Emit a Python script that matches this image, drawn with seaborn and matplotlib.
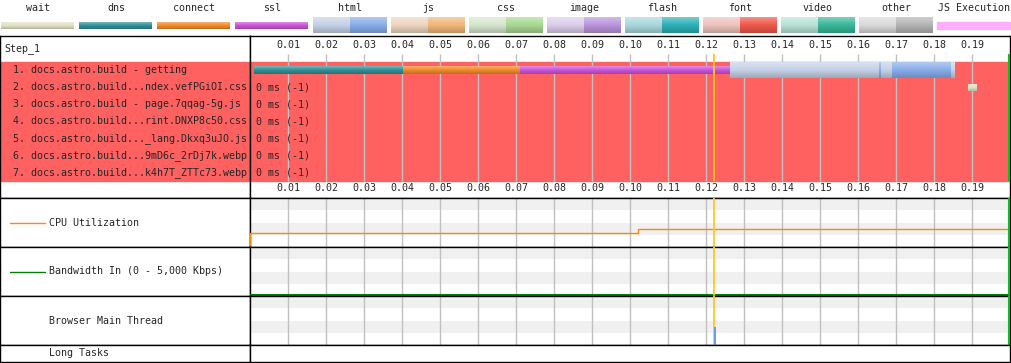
#!/usr/bin/env python3
"""
WebPageTest style waterfall (Step_1, docs.astro.build) rebuilt with seaborn + matplotlib.
Saves out.png at 1012x363.
"""

import numpy as np
import seaborn as sns
import matplotlib.pyplot as plt
from matplotlib.colors import LinearSegmentedColormap, to_rgb
from matplotlib.patches import Rectangle

# DATA
legend_names = ["wait", "dns", "connect", "ssl", "html", "js", "css", "image",
                "flash", "font", "video", "other", "JS Execution"]

# connection phase colours (single colour swatches)
conn_colors = {"wait": "#e2e2c4", "dns": "#2e8f96", "connect": "#f28a28", "ssl": "#cc52d8"}
# content type colours: (request / ttfb part, download part)
content_colors = {
    "html": ("#c4d1e6", "#88adea"),
    "js": ("#edd6bf", "#f2b77a"),
    "css": ("#d6e6cd", "#a8d890"),
    "image": ("#dacdea", "#b994dc"),
    "flash": ("#a8d8dc", "#2cb0b8"),
    "font": ("#f0c2bc", "#f0584a"),
    "video": ("#b8e2d6", "#38b898"),
    "other": ("#dadada", "#b4b4b4"),
}
js_exec_color = "#ffaeff"

step_name = "Step_1"
row_labels = [
    "1. docs.astro.build - getting",
    "2. docs.astro.build...ndex.vefPGiOI.css",
    "3. docs.astro.build - page.7qqag-5g.js",
    "4. docs.astro.build...rint.DNXP8c50.css",
    "5. docs.astro.build..._lang.Dkxq3uJO.js",
    "6. docs.astro.build...9mD6c_2rDj7k.webp",
    "7. docs.astro.build...k4h7T_ZTTc73.webp",
]
row_time_text = [None, "0 ms (-1)", "0 ms (-1)", "0 ms (-1)", "0 ms (-1)", "0 ms (-1)", "0 ms (-1)"]

tick_times = [0.01, 0.02, 0.03, 0.04, 0.05, 0.06, 0.07, 0.08, 0.09, 0.10,
              0.11, 0.12, 0.13, 0.14, 0.15, 0.16, 0.17, 0.18, 0.19]
t_max = 0.2

# request 1 timings (seconds)
req1_phases = [("dns", 0.0011, 0.0403), ("connect", 0.0403, 0.0711), ("ssl", 0.0711, 0.1263)]
req1_html = (0.1263, 0.1853)
req1_chunks = [(0.1656, 0.1659), (0.1689, 0.1842)]
# request 2 only has a tiny wait block
req2_wait = (0.1889, 0.1911)

start_render = 0.1221   # yellow marker
load_event = 0.1997     # green marker at right edge

cpu_t = [0.0, 0.0, 0.1021, 0.2]
cpu_v = [0, 29, 36, 36]
bw_t = [0.0, 0.2]
bw_v = [0, 0]
main_thread_t = [0.1220]
main_thread_v = [37]

panel_names = ["CPU Utilization", "Bandwidth In (0 - 5,000 Kbps)", "Browser Main Thread"]

# STYLE
sns.set_style("white")
plt.rcParams["font.family"] = ["DejaVu Sans Mono", "DejaVu Sans"]
FS = 7.2
RED = "#ff6161"
GRID = "#c0c0c0"
BAND = "#f0f0f0"
YELLOW = "#ffc825"
GREEN = "#10c010"
ORANGE = "#ff8a00"
BW_GREEN = "#008000"

W, H = 1012, 363
fig = plt.figure(figsize=(W / 100, H / 100), dpi=100)


def px_axes(x0, y0, x1, y1):
    """axes placed with pixel box (top-left origin)"""
    ax = fig.add_axes([x0 / W, 1 - y1 / H, (x1 - x0) / W, (y1 - y0) / H])
    ax.set_xticks([])
    ax.set_yticks([])
    for s in ax.spines.values():
        s.set_color("black")
        s.set_linewidth(1.0)
    return ax


def grad_rect(ax, x0, x1, y0, y1, color, zorder=4, light=0.35, dark=0.8):
    """bar with the vertical shading used by the waterfall (y axis inverted)"""
    c = np.array(to_rgb(color))
    cmap = LinearSegmentedColormap.from_list("g", [c + (1 - c) * light, c, c * dark])
    ax.imshow(np.linspace(0, 1, 64).reshape(-1, 1), cmap=cmap, extent=[x0, x1, y1, y0],
              aspect="auto", interpolation="bilinear", zorder=zorder)


# LEGEND
ax_leg = px_axes(0, 0, W, 36)
ax_leg.axis("off")
for i, name in enumerate(legend_names):
    x0 = 1.5 + 78 * i
    x1 = x0 + 73
    ax_leg.text((x0 + x1) / 2, 8, name, ha="center", va="center", fontsize=FS)
    if name in conn_colors:
        grad_rect(ax_leg, x0, x1, 22, 29, conn_colors[name])
    elif name in content_colors:
        xm = (x0 + x1) / 2
        grad_rect(ax_leg, x0, xm, 17, 33, content_colors[name][0])
        grad_rect(ax_leg, xm, x1, 17, 33, content_colors[name][1])
    else:
        ax_leg.add_patch(Rectangle((x0, 22), x1 - x0, 7, color=js_exec_color))
ax_leg.set_xlim(0, W)
ax_leg.set_ylim(36, 0)

# WATERFALL (rows in units, header above row 0, tick row below row 7)
n_rows = len(row_labels)
TOP, BOT = -26 / 17, n_rows + 1
HEAD_TXT, TICK_TOP, FOOT_TXT = -1.0, -0.47, n_rows + 0.41

ax_wl = px_axes(0, 36, 250, 198)
ax_wf = px_axes(250, 36, 1010, 198)

ax_wl.axhspan(0, n_rows, color=RED, zorder=0)
ax_wf.axhspan(0, n_rows, color=RED, zorder=0)
ax_wl.text(4, -0.765, step_name, va="center", fontsize=FS)
for i, lab in enumerate(row_labels):
    ax_wl.text(12.7, i + 0.5, lab, va="center", fontsize=FS)
ax_wl.set_xlim(0, 250)
ax_wl.set_ylim(BOT, TOP)

ax_wf.vlines(tick_times, TICK_TOP, n_rows, color=GRID, lw=1, zorder=1)
for t in tick_times:
    ax_wf.text(t, HEAD_TXT, f"{t:.2f}", ha="center", va="center", fontsize=FS)
    ax_wf.text(t, FOOT_TXT, f"{t:.2f}", ha="center", va="center", fontsize=FS)

for phase, s, e in req1_phases:
    grad_rect(ax_wf, s, e, 0.29, 0.72, conn_colors[phase])
grad_rect(ax_wf, req1_html[0], req1_html[1], 0.04, 0.94, content_colors["html"][0])
for s, e in req1_chunks:
    grad_rect(ax_wf, s, e, 0.04, 0.94, content_colors["html"][1], zorder=5)
grad_rect(ax_wf, req2_wait[0], req2_wait[1], 1.31, 1.71, conn_colors["wait"])

for i, txt in enumerate(row_time_text):
    if txt:
        ax_wf.annotate(txt, xy=(0, i + 0.5), xytext=(4.3, 0), textcoords="offset points",
                       va="center", fontsize=FS)

ax_wf.vlines([start_render], TICK_TOP, n_rows, color=YELLOW, lw=1.3, zorder=6)
ax_wf.vlines([load_event], TICK_TOP, n_rows, color=GREEN, lw=1.5, zorder=6)
ax_wf.set_xlim(0, t_max)
ax_wf.set_ylim(BOT, TOP)

# LOWER PANELS
tops = [198, 247, 296]
left_lines = [ORANGE, BW_GREEN, None]
for k, (name, y0) in enumerate(zip(panel_names, tops)):
    y1 = y0 + 49
    al = px_axes(0, y0, 250, y1)
    al.set_xlim(0, 250)
    al.set_ylim(0, 1)
    if left_lines[k]:
        al.plot([10, 45], [0.5, 0.5], color=left_lines[k], lw=1)
    al.text(49, 0.5, name, va="center", fontsize=FS)

    ar = px_axes(250, y0, 1010, y1)
    for b in (0.25, 0.75):
        ar.add_patch(Rectangle((0, b), 1, 0.25, transform=ar.transAxes, color=BAND, zorder=0, lw=0))
    ar.vlines(tick_times, 0, 1, transform=ar.get_xaxis_transform(), color=GRID, lw=1, zorder=1)
    ar.axvline(start_render, color=YELLOW, lw=1.3, zorder=5)
    ar.axvline(load_event, color=GREEN, lw=1.5, zorder=5)

    if k == 0:
        sns.lineplot(x=cpu_t, y=cpu_v, ax=ar, color=ORANGE, lw=1, drawstyle="steps-post",
                     estimator=None, sort=False, zorder=4)
        ar.set_ylim(0, 100)
    elif k == 1:
        sns.lineplot(x=bw_t, y=bw_v, ax=ar, color=BW_GREEN, lw=1.5, estimator=None, sort=False, zorder=4)
        ar.set_ylim(-120, 5000)
    else:
        ar.bar(main_thread_t, main_thread_v, width=0.0006, align="edge", color="#6c9ee0",
               linewidth=0, zorder=7)
        ar.set_ylim(0, 100)
    ar.set_xlim(0, t_max)
    ar.set_xlabel("")
    ar.set_ylabel("")
    ar.set_xticks([])
    ar.set_yticks([])

# long tasks strip
al = px_axes(0, 345, 250, 362)
al.set_xlim(0, 250)
al.set_ylim(0, 1)
al.text(49, 0.5, "Long Tasks", va="center", fontsize=FS)
ar = px_axes(250, 345, 1010, 362)

# OUTPUT
fig.savefig("out.png", dpi=100)
